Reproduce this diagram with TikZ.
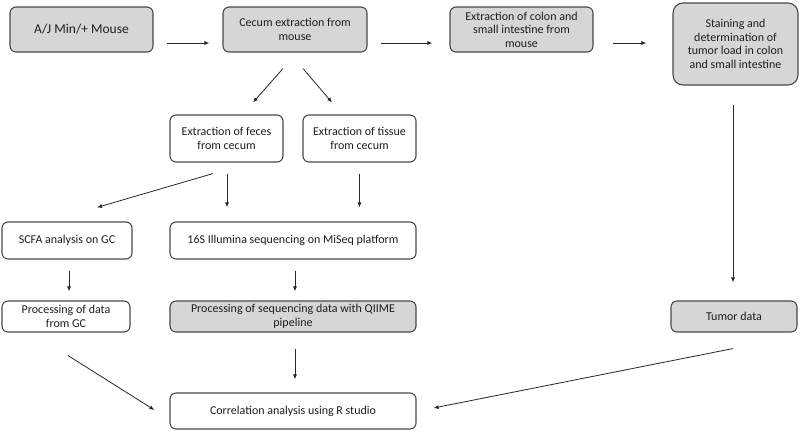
\documentclass[tikz,border=0pt]{standalone}
\usepackage{fontspec}
\setmainfont{Carlito}
\usetikzlibrary{arrows.meta}
\definecolor{boxfill}{HTML}{D6D6D6}
\definecolor{boxline}{HTML}{4A4A4A}
\definecolor{txt}{HTML}{1E1E1E}
\tikzset{
  box/.style={draw=boxline, line width=1.1pt, rounded corners=6pt, inner sep=0pt,
    align=center, text=txt, font=\fontsize{12}{14.5}\selectfont},
  gbox/.style={box, fill=boxfill},
  wbox/.style={box, fill=white},
  arr/.style={draw=black!85, line width=0.8pt, -{Latex[length=5pt,width=4pt]}}
}
\begin{document}
\begin{tikzpicture}[x=1pt,y=-1pt]
\useasboundingbox (0,0) rectangle (800,432);
\node[gbox, minimum width=143pt, minimum height=45pt, font=\fontsize{13.5}{16}\selectfont] (b1) at (81.5,29.5) {A/J Min/+ Mouse};
\node[gbox, minimum width=144pt, minimum height=45pt] (b2) at (295,29.5) {Cecum extraction from\\mouse};
\node[gbox, minimum width=143pt, minimum height=45pt, font=\fontsize{12}{13.5}\selectfont] (b3) at (521.5,29.5) {Extraction of colon and\\small intestine from\\mouse};
\node[gbox, minimum width=125pt, minimum height=82pt, rounded corners=10pt, font=\fontsize{12}{13.5}\selectfont] (b4) at (735.5,44) {Staining and\\determination of\\tumor load in colon\\and small intestine};
\node[wbox, minimum width=113pt, minimum height=47pt] (feces) at (226.5,138.5) {Extraction of feces\\from cecum};
\node[wbox, minimum width=113pt, minimum height=47pt] (tissue) at (359.5,138.5) {Extraction of tissue\\from cecum};
\node[wbox, minimum width=130pt, minimum height=37pt] (scfa) at (67,240.5) {SCFA analysis on GC};
\node[wbox, minimum width=246pt, minimum height=37pt] (seq) at (293,240.5) {16S Illumina sequencing on MiSeq platform};
\node[wbox, minimum width=128pt, minimum height=31pt] (gc) at (66,316.5) {Processing of data\\from GC};
\node[gbox, minimum width=246pt, minimum height=31pt] (qiime) at (293,316.5) {Processing of sequencing data with QIIME\\pipeline};
\node[gbox, minimum width=126pt, minimum height=31pt] (tumor) at (734,316.5) {Tumor data};
\node[wbox, minimum width=246pt, minimum height=36pt] (corr) at (293,411) {Correlation analysis using R studio};

\draw[arr] ([xshift=13pt,yshift=-13.5pt]b1.east) -- ([xshift=-13pt,yshift=-13.5pt]b2.west);
\draw[arr] ([xshift=13pt,yshift=-13.5pt]b2.east) -- ([xshift=-17pt,yshift=-13.5pt]b3.west);
\draw[arr] ([xshift=19pt,yshift=-13.5pt]b3.east) -- ([xshift=-26pt,yshift=1pt]b4.west);
\draw[arr] ([xshift=-12pt,yshift=-16pt]b2.south) -- ([xshift=26.5pt,yshift=12pt]feces.north);
\draw[arr] ([xshift=8pt,yshift=-16pt]b2.south) -- ([xshift=-27.5pt,yshift=12pt]tissue.north);
\draw[arr] ([xshift=-13.5pt,yshift=-11pt]feces.south) -- ([xshift=30pt,yshift=14pt]scfa.north);
\draw[arr] ([xshift=0.5pt,yshift=-11pt]feces.south) -- ([xshift=-66pt,yshift=14pt]seq.north);
\draw[arr] ([yshift=-11pt]tissue.south) -- ([xshift=66.5pt,yshift=14pt]seq.north);
\draw[arr] ([xshift=-2.5pt,yshift=-19pt]b4.south) -- ([xshift=-1pt,yshift=18pt]tumor.north);
\draw[arr] ([xshift=2pt,yshift=-11pt]scfa.south) -- ([xshift=3pt,yshift=9pt]gc.north);
\draw[arr] ([xshift=2pt,yshift=-11pt]seq.south) -- ([xshift=2pt,yshift=9pt]qiime.north);
\draw[arr] ([xshift=2pt,yshift=-16pt]qiime.south) -- ([xshift=2pt,yshift=13pt]corr.north);
\draw[arr] ([xshift=2pt,yshift=-23pt]gc.south) -- ([xshift=-15pt,yshift=1pt]corr.west);
\draw[arr] ([xshift=-1pt,yshift=-16pt]tumor.south) -- ([xshift=17pt,yshift=3pt]corr.east);
\end{tikzpicture}
\end{document}
